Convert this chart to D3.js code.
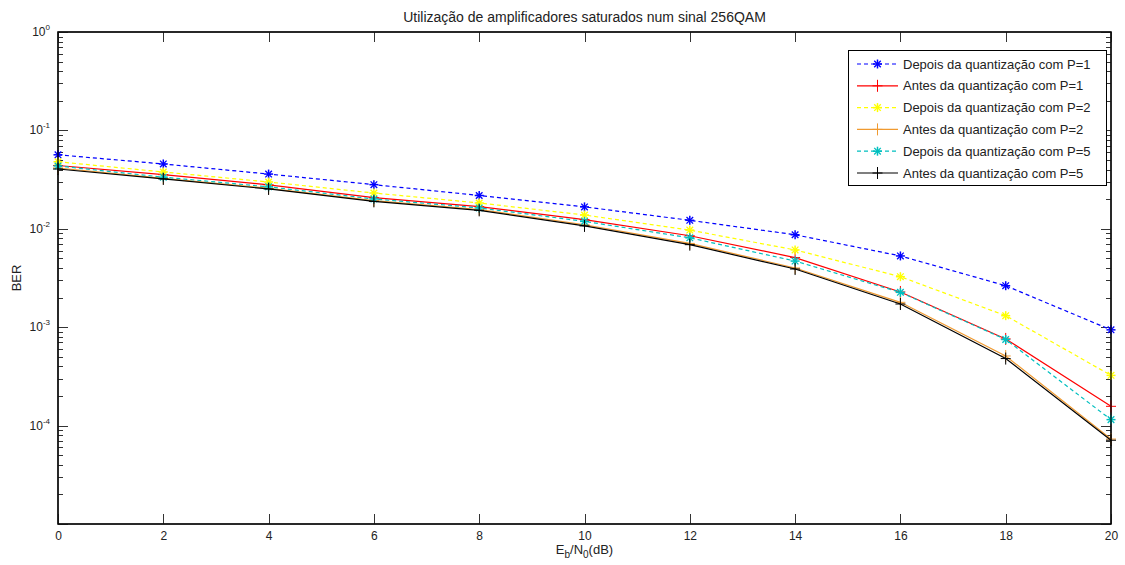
<!DOCTYPE html>
<html>
<head>
<meta charset="utf-8">
<script src="https://cdn.jsdelivr.net/npm/d3@7"></script>
<style>
  html, body { margin: 0; padding: 0; background: #fff; }
  svg { display: block; font-family: "Liberation Sans", Arial, sans-serif; }
</style>
</head>
<body>
<svg id="chart" width="1125" height="565"></svg>
<script>
// Eb/N0 values (dB)
const ebn0 = [0, 2, 4, 6, 8, 10, 12, 14, 16, 18, 20];

// BER per configuration
const depoisP1 = [0.0565, 0.0456, 0.0360, 0.0281, 0.0218, 0.0167, 0.0122, 0.0087, 0.0053, 0.00264, 0.00094];
const antesP1  = [0.0440, 0.0355, 0.0280, 0.0207, 0.0168, 0.0124, 0.0085, 0.0051, 0.00228, 0.00076, 0.000157];
const depoisP2 = [0.0480, 0.0378, 0.0299, 0.0231, 0.0183, 0.0138, 0.0097, 0.0061, 0.00326, 0.00131, 0.000324];
const antesP2  = [0.0415, 0.0326, 0.0258, 0.0193, 0.0157, 0.0110, 0.0071, 0.0040, 0.00179, 0.00051, 0.000073];
const depoisP5 = [0.0435, 0.0335, 0.0267, 0.0201, 0.0163, 0.0119, 0.0081, 0.0047, 0.00226, 0.00075, 0.000115];
const antesP5  = [0.0405, 0.0321, 0.0254, 0.0190, 0.0154, 0.0107, 0.0069, 0.0039, 0.00172, 0.00048, 0.000071];

const seriesNames = [
  "Depois da quantização com P=1",
  "Antes da quantização com P=1",
  "Depois da quantização com P=2",
  "Antes da quantização com P=2",
  "Depois da quantização com P=5",
  "Antes da quantização com P=5"
];
const xTicks = [0, 2, 4, 6, 8, 10, 12, 14, 16, 18, 20];
const yExponents = [0, -1, -2, -3, -4];

const series = [
  { name: seriesNames[0], values: depoisP1, color: "#0000ff", dash: "4,3", marker: "star" },
  { name: seriesNames[1], values: antesP1,  color: "#ff0000", dash: null,  marker: "plus" },
  { name: seriesNames[2], values: depoisP2, color: "#ffff00", dash: "4,3", marker: "star" },
  { name: seriesNames[3], values: antesP2,  color: "#f09a30", dash: null,  marker: "plus" },
  { name: seriesNames[4], values: depoisP5, color: "#00bfbf", dash: "4,3", marker: "star" },
  { name: seriesNames[5], values: antesP5,  color: "#000000", dash: null,  marker: "plus" }
];

const svg = d3.select("#chart");
const pLeft = 58, pRight = 1111, pTop = 32, pBottom = 524;

const x = d3.scaleLinear().domain([0, 20]).range([pLeft, pRight]);
const y = d3.scaleLog().domain([1e-5, 1]).range([pBottom, pTop]);

// Title
svg.append("text")
  .attr("x", (pLeft + pRight) / 2).attr("y", 22)
  .attr("text-anchor", "middle")
  .attr("font-size", 14).attr("fill", "#222")
  .text("Utilização de amplificadores saturados num sinal 256QAM");

// Plot box
svg.append("rect")
  .attr("x", pLeft).attr("y", pTop)
  .attr("width", pRight - pLeft).attr("height", pBottom - pTop)
  .attr("fill", "#fff").attr("stroke", "#000").attr("stroke-width", 1.2);

const tickG = svg.append("g").attr("stroke", "#333").attr("stroke-width", 1);

// X ticks (bottom and top, pointing inward)
xTicks.forEach(v => {
  const px = Math.round(x(v)) + 0.5;
  tickG.append("line").attr("x1", px).attr("x2", px).attr("y1", pBottom).attr("y2", pBottom - 10);
  tickG.append("line").attr("x1", px).attr("x2", px).attr("y1", pTop).attr("y2", pTop + 10);
});

// X tick labels via axis generator (lines hidden)
const xAxis = svg.append("g")
  .attr("transform", `translate(0,${pBottom})`)
  .call(d3.axisBottom(x).tickValues(xTicks).tickSize(0).tickPadding(7).tickFormat(d3.format("d")));
xAxis.select(".domain").remove();
xAxis.selectAll("text").attr("font-size", 12).attr("fill", "#222")
  .style("font-family", "'Liberation Sans', Arial, sans-serif");

// Y ticks: majors at decades, minors at 2..9
for (let e = -5; e <= 0; e++) {
  const py = Math.round(y(Math.pow(10, e))) + 0.5;
  tickG.append("line").attr("x1", pLeft).attr("x2", pLeft + 10).attr("y1", py).attr("y2", py);
  tickG.append("line").attr("x1", pRight).attr("x2", pRight - 10).attr("y1", py).attr("y2", py);
  if (e < 0) {
    for (let m = 2; m <= 9; m++) {
      const pm = Math.round(y(m * Math.pow(10, e))) + 0.5;
      tickG.append("line").attr("x1", pLeft).attr("x2", pLeft + 5).attr("y1", pm).attr("y2", pm);
      tickG.append("line").attr("x1", pRight).attr("x2", pRight - 5).attr("y1", pm).attr("y2", pm);
    }
  }
}

// Y tick labels 10^e
yExponents.forEach(e => {
  const t = svg.append("text")
    .attr("x", pLeft - 8).attr("y", y(Math.pow(10, e)) + 4)
    .attr("text-anchor", "end").attr("font-size", 12).attr("fill", "#222");
  t.append("tspan").text("10");
  t.append("tspan").attr("font-size", 8).attr("dy", -6).text(String(e));
});

// Axis labels
const xl = svg.append("text")
  .attr("x", (pLeft + pRight) / 2).attr("y", 554)
  .attr("text-anchor", "middle").attr("font-size", 13).attr("fill", "#222");
xl.append("tspan").text("E");
xl.append("tspan").attr("font-size", 10).attr("dy", 4).text("b");
xl.append("tspan").attr("dy", -4).text("/N");
xl.append("tspan").attr("font-size", 10).attr("dy", 4).text("0");
xl.append("tspan").attr("dy", -4).text("(dB)");

svg.append("text")
  .attr("transform", `translate(21,${(pTop + pBottom) / 2}) rotate(-90)`)
  .attr("text-anchor", "middle").attr("font-size", 13).attr("fill", "#222")
  .text("BER");

// Marker drawing helpers
function drawMarker(g, type, cx, cy, color) {
  if (type === "plus") {
    g.append("line").attr("x1", cx - 5).attr("x2", cx + 5).attr("y1", cy).attr("y2", cy)
      .attr("stroke", color).attr("stroke-width", 1);
    g.append("line").attr("x1", cx).attr("x2", cx).attr("y1", cy - 6).attr("y2", cy + 6)
      .attr("stroke", color).attr("stroke-width", 1);
  } else {
    const r = 4.5, d = 3.3;
    g.append("line").attr("x1", cx - r).attr("x2", cx + r).attr("y1", cy).attr("y2", cy)
      .attr("stroke", color).attr("stroke-width", 1.5);
    g.append("line").attr("x1", cx).attr("x2", cx).attr("y1", cy - r).attr("y2", cy + r)
      .attr("stroke", color).attr("stroke-width", 1.5);
    g.append("line").attr("x1", cx - d).attr("x2", cx + d).attr("y1", cy - d).attr("y2", cy + d)
      .attr("stroke", color).attr("stroke-width", 1.3);
    g.append("line").attr("x1", cx - d).attr("x2", cx + d).attr("y1", cy + d).attr("y2", cy - d)
      .attr("stroke", color).attr("stroke-width", 1.3);
  }
}

// Series lines and markers
const line = d3.line().x(d => x(d[0])).y(d => y(d[1]));
const plotG = svg.append("g");
series.forEach(s => {
  const pts = ebn0.map((v, i) => [v, s.values[i]]);
  const sg = plotG.append("g");
  sg.append("path").datum(pts)
    .attr("d", line).attr("fill", "none")
    .attr("stroke", s.color).attr("stroke-width", 1.2)
    .attr("stroke-dasharray", s.dash);
  pts.forEach(p => drawMarker(sg, s.marker, x(p[0]), y(p[1]), s.color));
});

// Redraw box edges over the lines at the borders
svg.append("rect")
  .attr("x", pLeft).attr("y", pTop)
  .attr("width", pRight - pLeft).attr("height", pBottom - pTop)
  .attr("fill", "none").attr("stroke", "#000").attr("stroke-width", 1.2);

// Legend
const lg = svg.append("g");
lg.append("rect")
  .attr("x", 848.5).attr("y", 50.5).attr("width", 258).attr("height", 135)
  .attr("fill", "#fff").attr("stroke", "#000").attr("stroke-width", 1);
series.forEach((s, i) => {
  const ly = 64 + i * 21.8;
  lg.append("line").attr("x1", 857).attr("x2", 898).attr("y1", ly).attr("y2", ly)
    .attr("stroke", s.color).attr("stroke-width", 1.2).attr("stroke-dasharray", s.dash);
  drawMarker(lg, s.marker, 877.5, ly, s.color);
  lg.append("text").attr("x", 903).attr("y", ly + 4.5)
    .attr("font-size", 13).attr("fill", "#222").text(s.name);
});
</script>
</body>
</html>
